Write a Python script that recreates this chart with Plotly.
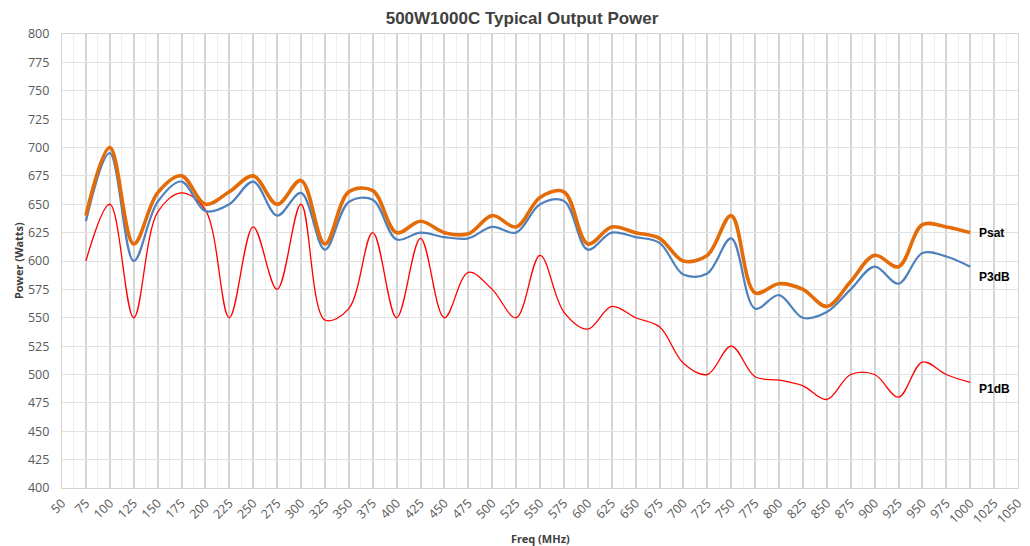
import plotly.graph_objects as go

freq = [75, 100, 125, 150, 175, 200, 225, 250, 275, 300, 325, 350, 375, 400, 425, 450, 475, 500, 525,
        550, 575, 600, 625, 650, 675, 700, 725, 750, 775, 800, 825, 850, 875, 900, 925, 950, 975, 1000]

psat = [640, 700, 615, 660, 675, 650, 661, 675, 650, 671, 615, 661, 662, 625, 635, 625, 624, 640, 630,
        656, 661, 615, 630, 625, 620, 600, 605, 640, 572, 580, 575, 560, 582, 605, 595, 632, 630, 625]

p3db = [635, 695, 600, 652, 670, 644, 650, 670, 640, 660, 610, 652, 654, 619, 625, 621, 620, 630, 625,
        650, 653, 610, 625, 621, 616, 588, 589, 620, 558, 570, 550, 555, 575, 595, 580, 607, 604, 595]

p1db = [600, 650, 550, 643, 660, 645, 550, 630, 575, 650, 548, 558, 625, 550, 620, 550, 590, 575, 550,
        605, 555, 540, 560, 550, 542, 510, 500, 525, 498, 495, 490, 478, 500, 500, 480, 511, 500, 493]

series_names = ["Psat", "P3dB", "P1dB"]

x_ticks = list(range(50, 1051, 25))
y_ticks = list(range(400, 801, 25))

fig = go.Figure()
fig.add_trace(go.Scatter(x=freq, y=p1db, mode="lines", name="P1dB",
                         line=dict(color="#FF0000", width=1.3, shape="spline", smoothing=1.0)))
fig.add_trace(go.Scatter(x=freq, y=p3db, mode="lines", name="P3dB",
                         line=dict(color="#4F81BD", width=2.2, shape="spline", smoothing=1.0)))
fig.add_trace(go.Scatter(x=freq, y=psat, mode="lines", name="Psat",
                         line=dict(color="#E36C09", width=3.6, shape="spline", smoothing=1.0)))

label_font = dict(family="Liberation Sans", size=12, color="#000000")
for name, vals, yshift in [("Psat", psat, 0), ("P3dB", p3db, -10), ("P1dB", p1db, -7)]:
    fig.add_annotation(x=freq[-1], y=vals[-1], text="<b>%s</b>" % name, showarrow=False,
                       xanchor="left", yanchor="middle", xshift=7, yshift=yshift,
                       font=label_font)

axis_title_font = dict(family="Noto Sans", size=11, color="#404040")
fig.add_annotation(xref="paper", yref="paper", x=0.5, y=0, yshift=-50, text="<b>Freq (MHz)</b>",
                   showarrow=False, xanchor="center", yanchor="middle", font=axis_title_font)
fig.add_annotation(xref="paper", yref="paper", x=0, y=0.5, xshift=-44, text="<b>Power (Watts)</b>",
                   showarrow=False, xanchor="center", yanchor="middle", textangle=-90,
                   font=axis_title_font)

tick_font = dict(family="Open Sans", size=12.5, color="#595959")

fig.update_layout(
    width=1022, height=538,
    margin=dict(l=54, r=12, t=26, b=58, autoexpand=False),
    paper_bgcolor="white", plot_bgcolor="white",
    showlegend=False,
    title=dict(text="<b>500W1000C Typical Output Power</b>", x=0.503, xanchor="center",
               y=0.981, yanchor="middle",
               font=dict(family="Liberation Sans", size=17, color="#404040")),
    xaxis=dict(range=[50, 1050], tickvals=x_ticks, ticktext=[str(v) for v in x_ticks],
               tickangle=-45, tickfont=tick_font, showgrid=True, gridcolor="#D4D4D4", gridwidth=1.6,
               showline=True, linecolor="#D4D4D4", linewidth=1.2, mirror=True, zeroline=False,
               ticks="", ticklabelstandoff=2, automargin=False,
               minor=dict(dtick=12.5, tick0=50, showgrid=True, gridcolor="#EEEEEE", gridwidth=1)),
    yaxis=dict(range=[400, 800], tickvals=y_ticks, tickfont=tick_font,
               showgrid=True, gridcolor="#E2E2E2", gridwidth=1,
               showline=True, linecolor="#D4D4D4", linewidth=1.2, mirror=True, zeroline=False,
               ticks="", ticklabelstandoff=9, automargin=False),
)

fig.write_html("out.html")
